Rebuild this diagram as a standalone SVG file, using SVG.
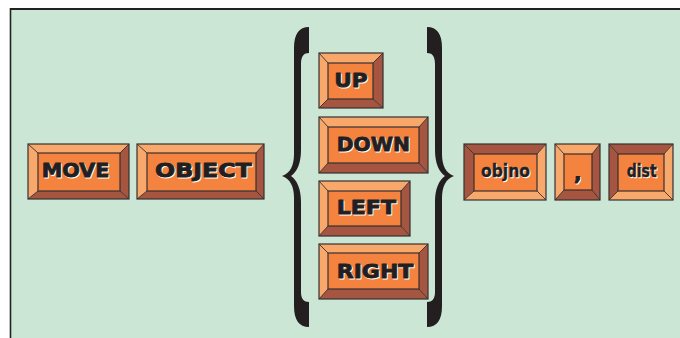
<svg xmlns="http://www.w3.org/2000/svg" width="680" height="338" viewBox="0 0 680 338">
<style>
.lt{fill:#f9a86c}
.dk{fill:#a65541}
.face{fill:#f4833f}
.edge{fill:none;stroke:#353030;stroke-width:1.2;stroke-linejoin:miter}
.diag{stroke:#353030;stroke-width:0.9}
.t{font-family:"DejaVu Sans","Liberation Sans",sans-serif;font-weight:bold;font-size:20px;fill:#231f20;stroke:#231f20;stroke-width:0.9;stroke-linejoin:round}
.s{font-family:"DejaVu Sans","Liberation Sans",sans-serif;font-weight:bold;font-size:20px;fill:#ffffff;stroke:#ffffff;stroke-width:0.9;stroke-linejoin:round}
.lo{font-size:18px;stroke-width:0.4}
.brace{fill:#231f20}
</style>
<rect x="0" y="0" width="680" height="338" fill="#ffffff"/>
<rect x="10.5" y="9" width="670" height="330" fill="#cbe6d5"/>
<line x1="10" y1="9" x2="680" y2="9" stroke="#222" stroke-width="2"/>
<line x1="10.5" y1="8" x2="10.5" y2="338" stroke="#222" stroke-width="1.6"/>

<g id="braces">
<path class="brace" d="M309,27 L309,53 C304,53 301,56 301,64 L301,150 C301,163 297,172 291,176 C297,180 301,189 301,202 L301,292 C301,299 304,302 309,302 L309,327 C299,327 294,320 294,306 L294,198 C294,186 290,179 282,176 C290,173 294,166 294,154 L294,48 C294,34 299,27 309,27 Z"/>
<path class="brace" transform="translate(736,0) scale(-1,1)" d="M309,27 L309,53 C304,53 301,56 301,64 L301,150 C301,163 297,172 291,176 C297,180 301,189 301,202 L301,292 C301,299 304,302 309,302 L309,327 C299,327 294,320 294,306 L294,198 C294,186 290,179 282,176 C290,173 294,166 294,154 L294,48 C294,34 299,27 309,27 Z"/>
</g>

<g id="move">
<polygon class="lt" points="28,144 129,144 120,153 38,153"/>
<polygon class="lt" points="28,144 38,153 38,191 28,199"/>
<polygon class="dk" points="129,144 129,199 120,191 120,153"/>
<polygon class="dk" points="28,199 38,191 120,191 129,199"/>
<rect class="face" x="38" y="153" width="82" height="38"/>
<line class="diag" x1="28" y1="144" x2="38" y2="153"/><line class="diag" x1="129" y1="144" x2="120" y2="153"/><line class="diag" x1="28" y1="199" x2="38" y2="191"/><line class="diag" x1="129" y1="199" x2="120" y2="191"/>
<rect class="edge" x="38" y="153" width="82" height="38"/>
<rect class="edge" x="28" y="144" width="101" height="55"/>
<text class="s" x="42.7" y="178" textLength="67.6" lengthAdjust="spacingAndGlyphs">MOVE</text>
<text class="t" x="41.7" y="177" textLength="67.6" lengthAdjust="spacingAndGlyphs">MOVE</text>
</g>

<g id="object">
<polygon class="lt" points="137,144 264,144 256,153 147,153"/>
<polygon class="lt" points="137,144 147,153 147,191 137,199"/>
<polygon class="dk" points="264,144 264,199 256,191 256,153"/>
<polygon class="dk" points="137,199 147,191 256,191 264,199"/>
<rect class="face" x="147" y="153" width="109" height="38"/>
<line class="diag" x1="137" y1="144" x2="147" y2="153"/><line class="diag" x1="264" y1="144" x2="256" y2="153"/><line class="diag" x1="137" y1="199" x2="147" y2="191"/><line class="diag" x1="264" y1="199" x2="256" y2="191"/>
<rect class="edge" x="147" y="153" width="109" height="38"/>
<rect class="edge" x="137" y="144" width="127" height="55"/>
<text class="s" x="156" y="178" textLength="96.7" lengthAdjust="spacingAndGlyphs">OBJECT</text>
<text class="t" x="155" y="177" textLength="96.7" lengthAdjust="spacingAndGlyphs">OBJECT</text>
</g>

<g id="up">
<polygon class="lt" points="319,53 383,53 373,63 328,63"/>
<polygon class="lt" points="319,53 328,63 328,99 319,108"/>
<polygon class="dk" points="383,53 383,108 373,99 373,63"/>
<polygon class="dk" points="319,108 328,99 373,99 383,108"/>
<rect class="face" x="328" y="63" width="45" height="36"/>
<line class="diag" x1="319" y1="53" x2="328" y2="63"/><line class="diag" x1="383" y1="53" x2="373" y2="63"/><line class="diag" x1="319" y1="108" x2="328" y2="99"/><line class="diag" x1="383" y1="108" x2="373" y2="99"/>
<rect class="edge" x="328" y="63" width="45" height="36"/>
<rect class="edge" x="319" y="53" width="64" height="55"/>
<text class="s" x="335.3" y="87.7" textLength="33.4" lengthAdjust="spacingAndGlyphs">UP</text>
<text class="t" x="334.3" y="86.7" textLength="33.4" lengthAdjust="spacingAndGlyphs">UP</text>
</g>

<g id="down">
<polygon class="lt" points="319,117 428,117 419,127 328,127"/>
<polygon class="lt" points="319,117 328,127 328,163 319,173"/>
<polygon class="dk" points="428,117 428,173 419,163 419,127"/>
<polygon class="dk" points="319,173 328,163 419,163 428,173"/>
<rect class="face" x="328" y="127" width="91" height="36"/>
<line class="diag" x1="319" y1="117" x2="328" y2="127"/><line class="diag" x1="428" y1="117" x2="419" y2="127"/><line class="diag" x1="319" y1="173" x2="328" y2="163"/><line class="diag" x1="428" y1="173" x2="419" y2="163"/>
<rect class="edge" x="328" y="127" width="91" height="36"/>
<rect class="edge" x="319" y="117" width="109" height="56"/>
<text class="s" x="337.7" y="151.7" textLength="73.3" lengthAdjust="spacingAndGlyphs">DOWN</text>
<text class="t" x="336.7" y="150.7" textLength="73.3" lengthAdjust="spacingAndGlyphs">DOWN</text>
</g>

<g id="left">
<polygon class="lt" points="319,181 410,181 401,191 328,191"/>
<polygon class="lt" points="319,181 328,191 328,226 319,236"/>
<polygon class="dk" points="410,181 410,236 401,226 401,191"/>
<polygon class="dk" points="319,236 328,226 401,226 410,236"/>
<rect class="face" x="328" y="191" width="73" height="35"/>
<line class="diag" x1="319" y1="181" x2="328" y2="191"/><line class="diag" x1="410" y1="181" x2="401" y2="191"/><line class="diag" x1="319" y1="236" x2="328" y2="226"/><line class="diag" x1="410" y1="236" x2="401" y2="226"/>
<rect class="edge" x="328" y="191" width="73" height="35"/>
<rect class="edge" x="319" y="181" width="91" height="55"/>
<text class="s" x="337.7" y="215.3" textLength="59.3" lengthAdjust="spacingAndGlyphs">LEFT</text>
<text class="t" x="336.7" y="214.3" textLength="59.3" lengthAdjust="spacingAndGlyphs">LEFT</text>
</g>

<g id="right">
<polygon class="lt" points="319,244 428,244 419,253 328,253"/>
<polygon class="lt" points="319,244 328,253 328,289 319,299"/>
<polygon class="dk" points="428,244 428,299 419,289 419,253"/>
<polygon class="dk" points="319,299 328,289 419,289 428,299"/>
<rect class="face" x="328" y="253" width="91" height="36"/>
<line class="diag" x1="319" y1="244" x2="328" y2="253"/><line class="diag" x1="428" y1="244" x2="419" y2="253"/><line class="diag" x1="319" y1="299" x2="328" y2="289"/><line class="diag" x1="428" y1="299" x2="419" y2="289"/>
<rect class="edge" x="328" y="253" width="91" height="36"/>
<rect class="edge" x="319" y="244" width="109" height="55"/>
<text class="s" x="337.7" y="279.3" textLength="76.7" lengthAdjust="spacingAndGlyphs">RIGHT</text>
<text class="t" x="336.7" y="278.3" textLength="76.7" lengthAdjust="spacingAndGlyphs">RIGHT</text>
</g>

<g id="objno">
<polygon class="dk" points="464,144 546,144 537,154 474,154"/>
<polygon class="dk" points="464,144 474,154 474,191 464,200"/>
<polygon class="lt" points="546,144 546,200 537,191 537,154"/>
<polygon class="lt" points="464,200 474,191 537,191 546,200"/>
<rect class="face" x="474" y="154" width="63" height="37"/>
<line class="diag" x1="464" y1="144" x2="474" y2="154"/><line class="diag" x1="546" y1="144" x2="537" y2="154"/><line class="diag" x1="464" y1="200" x2="474" y2="191"/><line class="diag" x1="546" y1="200" x2="537" y2="191"/>
<rect class="edge" x="474" y="154" width="63" height="37"/>
<rect class="edge" x="464" y="144" width="82" height="56"/>
<text class="s lo" x="482" y="178" textLength="49" lengthAdjust="spacingAndGlyphs">objno</text>
<text class="t lo" x="481" y="177" textLength="49" lengthAdjust="spacingAndGlyphs">objno</text>
</g>

<g id="comma">
<polygon class="lt" points="555,144 600,144 592,154 564,154"/>
<polygon class="lt" points="555,144 564,154 564,190 555,200"/>
<polygon class="dk" points="600,144 600,200 592,190 592,154"/>
<polygon class="dk" points="555,200 564,190 592,190 600,200"/>
<rect class="face" x="564" y="154" width="28" height="36"/>
<line class="diag" x1="555" y1="144" x2="564" y2="154"/><line class="diag" x1="600" y1="144" x2="592" y2="154"/><line class="diag" x1="555" y1="200" x2="564" y2="190"/><line class="diag" x1="600" y1="200" x2="592" y2="190"/>
<rect class="edge" x="564" y="154" width="28" height="36"/>
<rect class="edge" x="555" y="144" width="45" height="56"/>
<text class="s" x="575" y="181" font-size="26">,</text>
<text class="t" x="574" y="180" font-size="26">,</text>
</g>

<g id="dist">
<polygon class="dk" points="609,144 673,144 664,154 618,154"/>
<polygon class="dk" points="609,144 618,154 618,191 609,200"/>
<polygon class="lt" points="673,144 673,200 664,191 664,154"/>
<polygon class="lt" points="609,200 618,191 664,191 673,200"/>
<rect class="face" x="618" y="154" width="46" height="37"/>
<line class="diag" x1="609" y1="144" x2="618" y2="154"/><line class="diag" x1="673" y1="144" x2="664" y2="154"/><line class="diag" x1="609" y1="200" x2="618" y2="191"/><line class="diag" x1="673" y1="200" x2="664" y2="191"/>
<rect class="edge" x="618" y="154" width="46" height="37"/>
<rect class="edge" x="609" y="144" width="64" height="56"/>
<text class="s lo" x="627.7" y="178" textLength="30" lengthAdjust="spacingAndGlyphs">dist</text>
<text class="t lo" x="626.7" y="177" textLength="30" lengthAdjust="spacingAndGlyphs">dist</text>
</g>
</svg>
